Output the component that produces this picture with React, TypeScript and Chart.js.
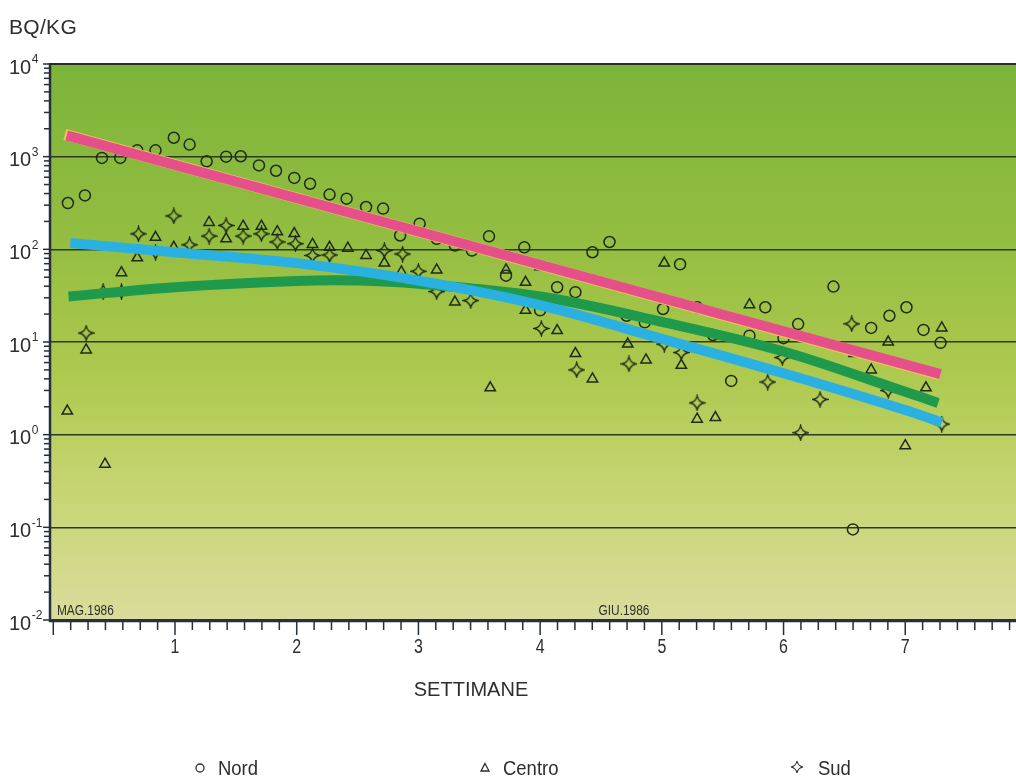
import React, { useEffect, useRef } from 'react';
import { Chart, registerables } from 'chart.js';

Chart.register(...registerables);

// ---- data (weeks, Bq/kg) ----
const nordX = [0.12, 0.26, 0.40, 0.55, 0.69, 0.84, 0.99, 1.12, 1.26, 1.42, 1.54, 1.69, 1.83, 1.98, 2.11, 2.27, 2.41, 2.57, 2.71, 2.85, 3.01, 3.15, 3.30, 3.44, 3.58, 3.72, 3.87, 4.00, 4.14, 4.29, 4.43, 4.57, 4.71, 4.86, 5.01, 5.15, 5.29, 5.42, 5.57, 5.72, 5.85, 6.00, 6.12, 6.41, 6.57, 6.72, 6.87, 7.01, 7.15, 7.29];
const nordY = [316, 382, 970, 970, 1170, 1170, 1600, 1350, 890, 1000, 1010, 805, 705, 590, 510, 390, 352, 286, 275, 141, 189, 130, 110, 97, 138, 52, 105, 22, 39, 34.5, 93, 120, 19.2, 16.3, 22.7, 69, 23.7, 11.9, 3.8, 11.7, 23.7, 11, 15.6, 39.6, 0.095, 14.2, 19.2, 23.7, 13.5, 9.8];

const centroX = [0.115, 0.27, 0.425, 0.56, 0.69, 0.84, 0.99, 1.28, 1.42, 1.56, 1.71, 1.84, 1.98, 2.13, 2.27, 2.42, 2.57, 2.72, 2.86, 3.15, 3.30, 3.59, 3.72, 3.88, 3.88, 4.00, 4.14, 4.29, 4.43, 4.72, 4.87, 5.02, 5.16, 5.29, 5.44, 5.72, 6.58, 6.72, 6.86, 7.00, 7.17, 7.30];
const centroY = [1.8, 8.2, 0.48, 56, 81, 135, 105, 195, 130, 178, 178, 155, 148, 113, 105, 103, 86, 71, 57, 60, 27, 3.2, 60, 22, 44, 65, 13.3, 7.5, 4.0, 9.5, 6.4, 71, 5.6, 1.47, 1.53, 25.3, 7.5, 5.0, 10, 0.76, 3.2, 14.2];

const sudX = [0.27, 0.41, 0.56, 0.70, 0.84, 0.99, 1.12, 1.28, 1.42, 1.56, 1.71, 1.84, 1.99, 2.13, 2.27, 2.72, 2.87, 3.00, 3.15, 3.43, 4.01, 4.30, 4.73, 5.02, 5.16, 5.29, 5.87, 5.99, 6.14, 6.30, 6.56, 6.86, 7.30];
const sudY = [12.5, 35, 35, 147, 93, 229, 112, 139, 181, 139, 147, 120, 115, 86, 87, 97, 89, 58, 35, 28, 14, 5.0, 5.8, 9.5, 7.7, 2.2, 3.7, 6.8, 1.05, 2.4, 15.7, 3.0, 1.3];

// fitted curves
const pinkX = [0.11, 7.29];
const pinkY = [1700, 4.5];
const pinkEdgeX = [0.095, 7.29];
const pinkEdgeY = [1740, 4.4];
const blueX = [0.14, 1, 2, 3, 4, 5, 6, 7, 7.30];
const blueY = [117, 93, 71, 46, 25, 10.8, 4.6, 1.85, 1.35];
const greenX = [0.125, 1, 2, 2.5, 3, 4, 5, 6, 7, 7.27];
const greenY = [31, 39, 45.5, 46, 42.5, 31, 16.5, 7.9, 2.9, 2.2];

// axis labels
const xTickLabels = ['1', '2', '3', '4', '5', '6', '7'];
const xTickValues = [1, 2, 3, 4, 5, 6, 7];
const yDecades = [0.01, 0.1, 1, 10, 100, 1000, 10000];
const yExponents = ['-2', '-1', '0', '1', '2', '3', '4'];
const monthLabels = ['MAG.1986', 'GIU.1986'];
const monthX = [0.03, 4.48];

const INK = '#1f2a18';
const TEXT = '#2e2e2e';

const pts = (xs: number[], ys: number[]) => xs.map((x, i) => ({ x, y: ys[i] }));

function makeStar(): HTMLCanvasElement {
  const c = document.createElement('canvas');
  const s = 17;
  c.width = s; c.height = s;
  const g = c.getContext('2d')!;
  const m = s / 2, r = 7.2, k = 1.2;
  g.strokeStyle = INK;
  g.lineWidth = 1.3;
  g.beginPath();
  g.moveTo(m, m - r);
  g.quadraticCurveTo(m + k, m - k, m + r, m);
  g.quadraticCurveTo(m + k, m + k, m, m + r);
  g.quadraticCurveTo(m - k, m + k, m - r, m);
  g.quadraticCurveTo(m - k, m - k, m, m - r);
  g.closePath();
  g.stroke();
  return c;
}

const bgPlugin = {
  id: 'bg',
  beforeDraw(chart: any) {
    const { ctx, chartArea: a } = chart;
    const grad = ctx.createLinearGradient(0, a.top, 0, a.bottom);
    grad.addColorStop(0, '#7cb43a');
    grad.addColorStop(0.3, '#92bd40');
    grad.addColorStop(0.55, '#acc94e');
    grad.addColorStop(0.78, '#c8d574');
    grad.addColorStop(1, '#dbdc9c');
    ctx.save();
    ctx.fillStyle = grad;
    ctx.fillRect(a.left, a.top, a.right - a.left, a.bottom - a.top);
    ctx.restore();
  },
};

const axisPlugin = {
  id: 'axes',
  afterDraw(chart: any) {
    const { ctx, chartArea: a, scales } = chart;
    const xs = scales.x, ys = scales.y;
    ctx.save();
    // axis lines
    ctx.strokeStyle = '#25303a';
    ctx.lineWidth = 2.5;
    ctx.beginPath();
    ctx.moveTo(a.left, a.top - 1);
    ctx.lineTo(a.left, a.bottom + 1);
    ctx.lineTo(a.right, a.bottom + 1);
    ctx.stroke();
    ctx.lineWidth = 2;
    ctx.strokeStyle = '#22301c';
    ctx.beginPath();
    ctx.moveTo(a.left, a.top);
    ctx.lineTo(a.right, a.top);
    ctx.stroke();

    // y ticks (log minor)
    ctx.strokeStyle = '#25303a';
    ctx.lineWidth = 1.5;
    for (let d = 0; d < yDecades.length; d++) {
      const base = yDecades[d];
      const y0 = ys.getPixelForValue(base);
      ctx.beginPath();
      ctx.moveTo(a.left - 7, y0);
      ctx.lineTo(a.left, y0);
      ctx.stroke();
      if (d < yDecades.length - 1) {
        for (let m = 2; m <= 9; m++) {
          const y = ys.getPixelForValue(base * m);
          ctx.beginPath();
          ctx.moveTo(a.left - 6, y);
          ctx.lineTo(a.left, y);
          ctx.stroke();
        }
      }
    }
    // x ticks (days)
    for (let k = 0; k <= 60; k++) {
      const v = k / 7;
      if (v > xs.max) break;
      const px = xs.getPixelForValue(v);
      const major = k % 7 === 0;
      ctx.beginPath();
      ctx.moveTo(px, a.bottom);
      ctx.lineTo(px, a.bottom + (major ? 15 : 10));
      ctx.stroke();
    }

    // x labels
    ctx.fillStyle = TEXT;
    ctx.textAlign = 'center';
    ctx.textBaseline = 'middle';
    ctx.font = '20px "Liberation Sans", Arial, sans-serif';
    xTickValues.forEach((v, i) => {
      const px = xs.getPixelForValue(v);
      ctx.save();
      ctx.translate(px, a.bottom + 27);
      ctx.scale(0.8, 1);
      ctx.fillText(xTickLabels[i], 0, 0);
      ctx.restore();
    });

    // y labels: 10 with superscript exponent
    ctx.textAlign = 'left';
    yDecades.forEach((v, i) => {
      const py = ys.getPixelForValue(v);
      ctx.font = '20px "Liberation Sans", Arial, sans-serif';
      ctx.textBaseline = 'middle';
      ctx.fillText('10', 9, py + 4);
      const w = ctx.measureText('10').width;
      ctx.font = '12px "Liberation Sans", Arial, sans-serif';
      ctx.fillText(yExponents[i], 9 + w + 0.5, py - 4);
    });

    // month marks
    ctx.font = '14px "Liberation Sans", Arial, sans-serif';
    ctx.textBaseline = 'alphabetic';
    monthLabels.forEach((t, i) => {
      const px = xs.getPixelForValue(monthX[i]);
      ctx.save();
      ctx.translate(px, a.bottom - 5);
      ctx.scale(0.85, 1);
      ctx.fillText(t, 0, 0);
      ctx.restore();
    });
    ctx.restore();
  },
};

export default function App() {
  const ref = useRef<HTMLCanvasElement | null>(null);

  useEffect(() => {
    if (!ref.current) return;
    const star = makeStar();
    const lineDs = (label: string, xs: number[], ys: number[], color: string, order: number, width = 10) => ({
      label,
      data: pts(xs, ys),
      showLine: true,
      borderColor: color,
      backgroundColor: color,
      borderWidth: width,
      pointRadius: 0,
      borderCapStyle: 'butt',
      tension: 0.35,
      order,
    });
    const chart = new Chart(ref.current, {
      type: 'scatter',
      data: {
        datasets: [
          lineDs('Nord fit', pinkX, pinkY, '#e6508a', 2) as any,
          lineDs('Nord fit edge', pinkEdgeX, pinkEdgeY, '#eec35a', 2.5, 11) as any,
          lineDs('Centro fit', greenX, greenY, '#1f9a4c', 1) as any,
          lineDs('Sud fit', blueX, blueY, '#2bb0e2', 0) as any,
          {
            label: 'Nord', data: pts(nordX, nordY), pointStyle: 'circle', pointRadius: 5.5,
            borderColor: INK, borderWidth: 1.5, backgroundColor: 'rgba(0,0,0,0)', order: 3,
          },
          {
            label: 'Centro', data: pts(centroX, centroY), pointStyle: 'triangle', pointRadius: 6,
            borderColor: INK, borderWidth: 1.5, backgroundColor: 'rgba(0,0,0,0)', order: 4,
          },
          {
            label: 'Sud', data: pts(sudX, sudY), pointStyle: star as any, pointRadius: 8,
            borderColor: INK, backgroundColor: 'rgba(0,0,0,0)', order: 5,
          },
        ],
      },
      options: {
        responsive: false,
        animation: false,
        devicePixelRatio: 1,
        layout: { autoPadding: false, padding: { top: 64, left: 0, right: 0, bottom: 0 } },
        plugins: { legend: { display: false }, tooltip: { enabled: false }, title: { display: false } },
        scales: {
          x: {
            type: 'linear', min: -0.027, max: 7.91,
            grid: { display: false }, border: { display: false },
            ticks: { display: false },
            afterFit: (s: any) => { s.height = 161; },
          },
          y: {
            type: 'logarithmic', min: 0.01, max: 10000,
            border: { display: false },
            ticks: { display: false },
            afterBuildTicks: (s: any) => { s.ticks = yDecades.map((v) => ({ value: v })); },
            grid: { color: '#2d3a22', lineWidth: 1.4, drawTicks: false },
            afterFit: (s: any) => { s.width = 50; },
          },
        },
      } as any,
      plugins: [bgPlugin, axisPlugin],
    });
    return () => chart.destroy();
  }, []);

  const font = '"Liberation Sans", Arial, sans-serif';
  const legendItems = [
    { label: 'Nord', x: 193, tx: 218, icon: 'circle' },
    { label: 'Centro', x: 478, tx: 503, icon: 'triangle' },
    { label: 'Sud', x: 790, tx: 818, icon: 'star' },
  ];

  return (
    <div style={{ position: 'fixed', left: 0, top: 0, width: 1016, height: 781, background: '#fff', overflow: 'hidden', fontFamily: font, color: TEXT }}>
      <canvas ref={ref} width={1016} height={781} style={{ position: 'absolute', left: 0, top: 0, width: 1016, height: 781 }} />
      <div style={{ position: 'absolute', left: 9, top: 16, fontSize: 21, lineHeight: '21px', letterSpacing: 0.3 }}>BQ/KG</div>
      <div style={{ position: 'absolute', left: 371, width: 200, top: 679, textAlign: 'center', fontSize: 20, lineHeight: '20px' }}>SETTIMANE</div>
      {legendItems.map((it) => (
        <div key={it.label}>
          <svg style={{ position: 'absolute', left: it.x, top: 759 }} width={14} height={16} viewBox="0 0 14 16">
            {it.icon === 'circle' && <circle cx={7} cy={9} r={4} fill="none" stroke={TEXT} strokeWidth={1.3} />}
            {it.icon === 'triangle' && <polygon points="7,4.5 11,12 3,12" fill="none" stroke={TEXT} strokeWidth={1.3} />}
            {it.icon === 'star' && <path d="M7 2 Q8 7 13 8 Q8 9 7 14 Q6 9 1 8 Q6 7 7 2 Z" fill="none" stroke={TEXT} strokeWidth={1.1} />}
          </svg>
          <div style={{ position: 'absolute', left: it.tx, top: 757, fontSize: 21, lineHeight: '21px', transform: 'scaleX(0.88)', transformOrigin: 'left center' }}>{it.label}</div>
        </div>
      ))}
    </div>
  );
}
